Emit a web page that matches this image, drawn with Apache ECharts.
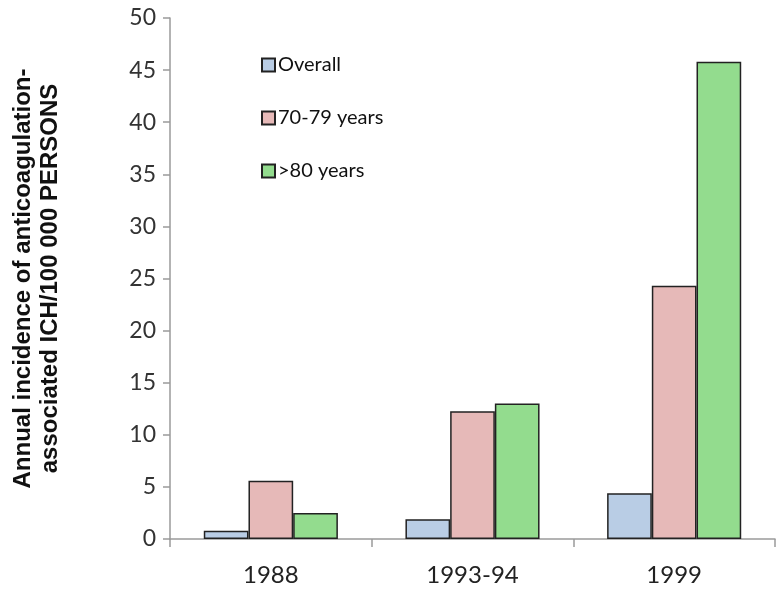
<!DOCTYPE html>
<html><head><meta charset="utf-8">
<script src="https://cdn.jsdelivr.net/npm/echarts@6/dist/echarts.min.js"></script>
<style>html,body{margin:0;padding:0;background:#fff}#c{width:784px;height:593px}</style>
</head><body><div id="c"></div>
<script>
const categories = ['1988', '1993-94', '1999'];
const overall = [0.8, 1.9, 4.4];
const age7079 = [5.6, 12.25, 24.3];
const age80 = [2.5, 13.0, 45.8];
const seriesNames = ['Overall', '70-79 years', '>80 years'];
const yTicks = { min: 0, max: 50, interval: 5 };

const colors = ['#b9cde5', '#e6b9b8', '#93dc8e'];
const chart = echarts.init(document.getElementById('c'), null, { renderer: 'canvas' });
const mk = (name, data, i) => ({
  name, type: 'bar', data,
  barGap: '0%', barCategoryGap: '33.5%',
  itemStyle: { color: colors[i], borderColor: '#222', borderWidth: 1.5 }
});
chart.setOption({
  animation: false,
  grid: { left: 170, right: 9, top: 18, bottom: 54, containLabel: false },
  legend: {
    orient: 'vertical', left: 256, top: 50, itemWidth: 13, itemHeight: 13, itemGap: 33,
    icon: 'rect',
    textStyle: { fontFamily: 'Lato', fontSize: 20, color: '#111', padding: [0, 0, 0, -2] },
    data: seriesNames
  },
  xAxis: {
    type: 'category', data: categories,
    axisLine: { lineStyle: { color: '#9a9a9a', width: 1.5 } },
    axisTick: { show: true, length: 8, lineStyle: { color: '#9a9a9a', width: 1.5 } },
    axisLabel: { fontFamily: 'Lato', fontSize: 24, color: '#222', margin: 24 }
  },
  yAxis: {
    type: 'value', min: yTicks.min, max: yTicks.max, interval: yTicks.interval,
    name: 'Annual incidence of anticoagulation-\nassociated ICH/100 000 PERSONS',
    nameLocation: 'middle', nameGap: 106, nameRotate: 90,
    nameTextStyle: { fontFamily: 'Liberation Sans', fontWeight: 'bold', fontSize: 24, color: '#111', lineHeight: 27 },
    splitLine: { show: false },
    axisLine: { show: true, lineStyle: { color: '#9a9a9a', width: 1.5 } },
    axisTick: { show: true, length: 7, lineStyle: { color: '#9a9a9a', width: 1.5 } },
    axisLabel: { fontFamily: 'Lato', fontSize: 23, color: '#333', margin: 14 }
  },
  series: [mk(seriesNames[0], overall, 0), mk(seriesNames[1], age7079, 1), mk(seriesNames[2], age80, 2)]
});
</script></body></html>
